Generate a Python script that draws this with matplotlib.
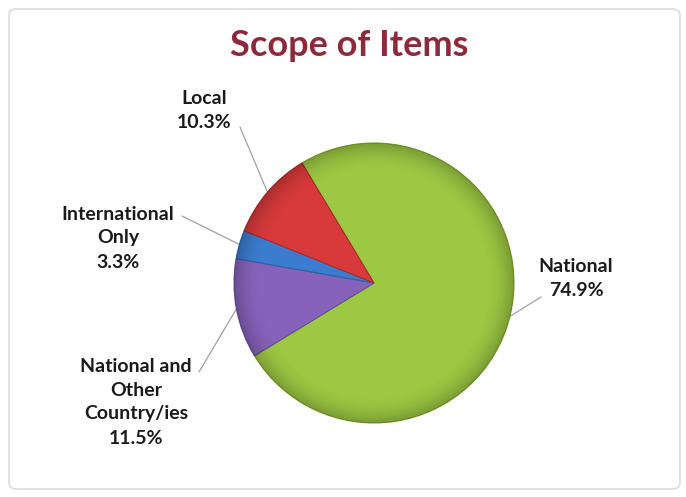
import numpy as np
import matplotlib
matplotlib.use("Agg")
import matplotlib.pyplot as plt
from matplotlib.patches import FancyBboxPatch, Circle, ConnectionPatch

# Data
categories = ["National", "National and\nOther\nCountry/ies", "International\nOnly", "Local"]
shares = [74.9, 11.5, 3.3, 10.3]
colors = ["#9cc843", "#8762bb", "#3b7ccf", "#d83a3b"]
edge_colors = ["#7a9e2c", "#6a4a98", "#2e62a8", "#a82a2b"]

W, H = 686, 497
fig = plt.figure(figsize=(W / 100, H / 100), dpi=100)
fig.patch.set_facecolor("white")


def fx(px):
    return px / W


def fy(py):
    return 1 - py / H


# Chart panel with rounded border
panel = FancyBboxPatch((fx(9), fy(489)), fx(671), (480) / H,
                       boxstyle="round,pad=0,rounding_size=0.012",
                       transform=fig.transFigure, facecolor="white",
                       edgecolor="#dcdcdc", linewidth=1.2, zorder=-10)
fig.patches.append(panel)

# Title
fig.text(fx(349), fy(46), "Scope of Items", ha="center", va="center",
         fontsize=26, fontweight="bold", family="Lato", color="#8c2a3c")

# Pie axes
cx, cy, r = 374, 283, 140
ax = fig.add_axes([fx(cx - r), (H - cy - r) / H, 2 * r / W, 2 * r / H], zorder=2)
ax.patch.set_alpha(0)
ax.set_aspect("equal")
ax.axis("off")

start = 121
wedges, _ = ax.pie(shares, colors=colors, startangle=start, counterclock=False,
                   radius=1.0, center=(0, 0), frame=False,
                   wedgeprops=dict(linewidth=0.8))
for w, ec in zip(wedges, edge_colors):
    w.set_edgecolor(ec)

# Soft bevel shading toward the rim
n = 400
g = np.linspace(-1, 1, n)
X, Y = np.meshgrid(g, g)
R = np.sqrt(X ** 2 + Y ** 2)
shade = np.zeros((n, n, 4))
shade[..., 3] = np.clip((R - 0.8) / 0.2, 0, 1) ** 2 * 0.22
img = ax.imshow(shade, extent=[-1, 1, -1, 1], origin="lower", zorder=5,
                interpolation="bilinear")
img.set_clip_path(Circle((0, 0), 1.0, transform=ax.transData))
ax.set_xlim(-1, 1)
ax.set_ylim(-1, 1)

# Labels and leader lines
label_pos = [(576, 279), (136, 402), (118, 238), (204, 110)]
line_ends = [(541, 297), (199, 372), (182, 216), (240, 127)]
angles = []
a0 = start
for s in shares:
    sweep = s / sum(shares) * 360
    angles.append(np.deg2rad(a0 - sweep / 2))
    a0 -= sweep

for cat, s, (lx, ly), (ex, ey), th in zip(categories, shares, label_pos, line_ends, angles):
    fig.text(fx(lx), fy(ly), f"{cat}\n{s:.1f}%", ha="center", va="center",
             fontsize=14, fontweight="bold", family="Lato", color="#1a1a1a",
             linespacing=1.5, zorder=3)
    con = ConnectionPatch(xyA=(np.cos(th), np.sin(th)), coordsA=ax.transData,
                          xyB=(fx(ex), fy(ey)), coordsB=fig.transFigure,
                          color="#a0a0a0", linewidth=0.9, zorder=1)
    fig.add_artist(con)

fig.savefig("out.png", dpi=100, facecolor="white")
